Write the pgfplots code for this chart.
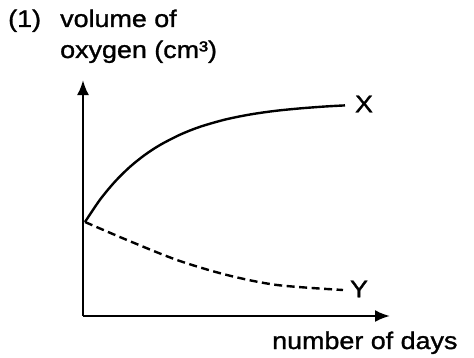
\documentclass[border=0pt]{standalone}
\usepackage{fontspec}
\setmainfont{Liberation Sans}[FakeStretch=1.12, FakeBold=1.2]
\usepackage{pgfplots}
\pgfplotsset{compat=1.18}
\usetikzlibrary{arrows.meta}
\begin{document}
\fontsize{24}{28}\selectfont
\begin{tikzpicture}[x=1pt,y=1pt]
\path[use as bounding box] (0,0) rectangle (474,357);
\begin{axis}[
  at={(83pt,41pt)}, anchor=south west,
  scale only axis, width=307pt, height=236pt,
  xmin=83, xmax=390, ymin=41, ymax=277,
  axis lines=left,
  axis line style={line width=2.4pt, -{Latex[length=15pt,width=12pt]}},
  xtick=\empty, ytick=\empty,
  clip=false,
]
\addplot[line width=2.4pt, smooth, tension=0.5] coordinates {
(85,135) (100,157.3) (115,175.4) (130,190.2) (145,202.2) (160,212.0) (180,222.3) (200,230.2) (225,237.4) (250,242.5) (275,246.1) (300,248.6) (325,250.5) (345,251.6)};
\addplot[line width=2.4pt, smooth, tension=0.5, dash pattern=on 8pt off 4.5pt] coordinates {
(85,135) (127,117) (177,97) (227,82) (277,72) (343,67)};
\end{axis}
\node[anchor=center] at (364,253) {X};
\node[anchor=center] at (359,68) {Y};
\node[anchor=base west, inner sep=0pt] at (272,8) {number of days};
\node[anchor=base west, inner sep=0pt] at (8,330) {(1)};
\node[anchor=base west, inner sep=0pt] at (60,330) {volume of};
\node[anchor=base west, inner sep=0pt] at (60,299) {oxygen (cm³)};
\end{tikzpicture}
\end{document}
